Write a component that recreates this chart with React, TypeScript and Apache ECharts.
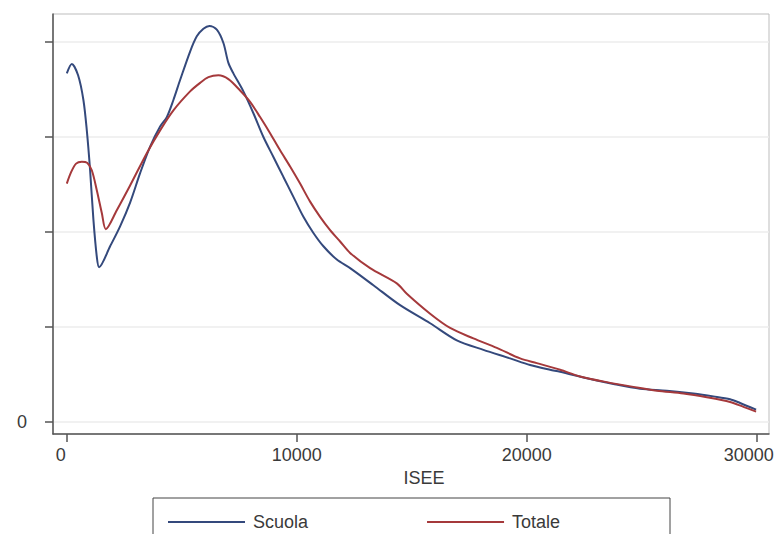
import React, { useEffect, useRef } from "react";
import * as echarts from "echarts";

// ISEE values (x) and kernel density (in units of the unlabeled y-tick spacing)
const scuolaX = [0, 217, 491, 722, 870, 1013, 1157, 1304, 1404, 1883, 2317, 2752, 3187, 3622, 4057, 4348, 4635, 4926, 5361, 5652, 5939, 6200, 6522, 6809, 7026, 7243, 7678, 8113, 8548, 8983, 9417, 9852, 10287, 10722, 11157, 11739, 12317, 13330, 14491, 15796, 16957, 18113, 19274, 20143, 21013, 21448, 22609, 23765, 24926, 26087, 27243, 28113, 28839, 29274, 29970];
const scuolaY = [3.67, 3.77, 3.65, 3.39, 3.07, 2.65, 2.13, 1.74, 1.63, 1.85, 2.06, 2.31, 2.62, 2.90, 3.11, 3.21, 3.39, 3.60, 3.90, 4.06, 4.14, 4.17, 4.13, 3.99, 3.78, 3.67, 3.48, 3.25, 3.00, 2.79, 2.58, 2.37, 2.16, 1.99, 1.85, 1.71, 1.62, 1.44, 1.23, 1.04, 0.86, 0.76, 0.67, 0.60, 0.55, 0.53, 0.46, 0.40, 0.35, 0.33, 0.30, 0.27, 0.24, 0.20, 0.13];

const totaleX = [0, 187, 404, 652, 883, 1087, 1304, 1522, 1696, 2174, 2752, 3478, 4057, 4635, 5361, 5796, 6157, 6591, 7026, 7535, 7970, 8404, 8839, 9274, 9709, 10143, 10578, 11013, 11448, 11883, 12317, 13187, 14348, 14783, 15796, 16665, 17678, 18696, 19709, 20435, 21448, 22317, 23478, 24635, 25652, 26809, 27826, 28839, 29417, 29970];
const totaleY = [2.51, 2.63, 2.72, 2.74, 2.73, 2.65, 2.44, 2.20, 2.03, 2.23, 2.49, 2.83, 3.07, 3.28, 3.48, 3.57, 3.63, 3.65, 3.61, 3.49, 3.37, 3.21, 3.04, 2.86, 2.69, 2.51, 2.32, 2.16, 2.02, 1.90, 1.78, 1.62, 1.46, 1.35, 1.14, 0.99, 0.88, 0.78, 0.67, 0.62, 0.55, 0.48, 0.42, 0.37, 0.33, 0.30, 0.26, 0.21, 0.16, 0.11];

const xTicks = [0, 10000, 20000, 30000];
const yTicks = [0, 1, 2, 3, 4];
const yLabels = [0];
const seriesNames = ["Scuola", "Totale"];

const FONT = "'Liberation Sans', Arial, sans-serif";

export default function App() {
  const ref = useRef<HTMLDivElement>(null);
  useEffect(() => {
    if (!ref.current) return;
    const chart = echarts.init(ref.current, null, { renderer: "svg" });
    const zip = (xs: number[], ys: number[]) => xs.map((x, i) => [x, ys[i]]);
    chart.setOption({
      animation: false,
      backgroundColor: "#ffffff",
      textStyle: { fontFamily: FONT },
      grid: {
        left: 53,
        right: 11,
        top: 14,
        bottom: 100,
        show: true,
        borderColor: "#bdbdbd",
        borderWidth: 1,
      },
      xAxis: {
        type: "value",
        min: -600,
        max: 30530,
        name: "ISEE",
        nameLocation: "middle",
        nameGap: 32,
        nameTextStyle: { fontSize: 18, color: "#3a3a3a", fontFamily: FONT, padding: [0, 0, 0, 26] },
        axisLine: { show: true, onZero: false, lineStyle: { color: "#555", width: 1.5 } },
        axisTick: { show: true, length: 8, customValues: xTicks, lineStyle: { color: "#555", width: 1.5 } },
        axisLabel: {
          customValues: xTicks,
          fontSize: 18,
          color: "#3a3a3a",
          margin: 12,
          fontFamily: FONT,
          formatter: (v: number) => (v === 30000 ? "{last|" + v + "}" : v === 0 ? "{first|" + v + "}" : String(v)),
          rich: {
            last: { fontSize: 18, color: "#3a3a3a", fontFamily: FONT, padding: [0, 16, 0, 0] },
            first: { fontSize: 18, color: "#3a3a3a", fontFamily: FONT, padding: [0, 12, 0, 0] },
          },
        },
        splitLine: { show: false },
      },
      yAxis: {
        type: "value",
        min: -0.126,
        max: 4.295,
        axisLine: { show: true, onZero: false, lineStyle: { color: "#555", width: 1.5 } },
        axisTick: { show: true, length: 8, customValues: yTicks, lineStyle: { color: "#555", width: 1.5 } },
        axisLabel: { customValues: yLabels, fontSize: 18, color: "#3a3a3a", margin: 26, fontFamily: FONT },
        splitLine: { show: true, lineStyle: { color: "#ececec", width: 1.5 } },
      },
      legend: {
        left: 163,
        top: 508,
        itemWidth: 77,
        itemHeight: 2,
        itemGap: 119,
        icon: "rect",
        textStyle: { fontSize: 18, color: "#3a3a3a", fontFamily: FONT, padding: [0, 0, 0, 3] },
        data: seriesNames,
      },
      graphic: [
        {
          type: "rect",
          shape: { x: 153, y: 498, width: 517, height: 60 },
          style: { fill: "none", stroke: "#444", lineWidth: 1 },
          silent: true,
        },
      ],
      series: [
        {
          name: seriesNames[0],
          type: "line",
          data: zip(scuolaX, scuolaY),
          showSymbol: false,
          smooth: 0.3,
          lineStyle: { color: "#34497c", width: 2 },
          itemStyle: { color: "#34497c" },
        },
        {
          name: seriesNames[1],
          type: "line",
          data: zip(totaleX, totaleY),
          showSymbol: false,
          smooth: 0.3,
          lineStyle: { color: "#a5393b", width: 2 },
          itemStyle: { color: "#a5393b" },
        },
      ],
    });
    return () => chart.dispose();
  }, []);
  return <div ref={ref} style={{ width: 780, height: 534, position: "absolute", left: 0, top: 0 }} />;
}
